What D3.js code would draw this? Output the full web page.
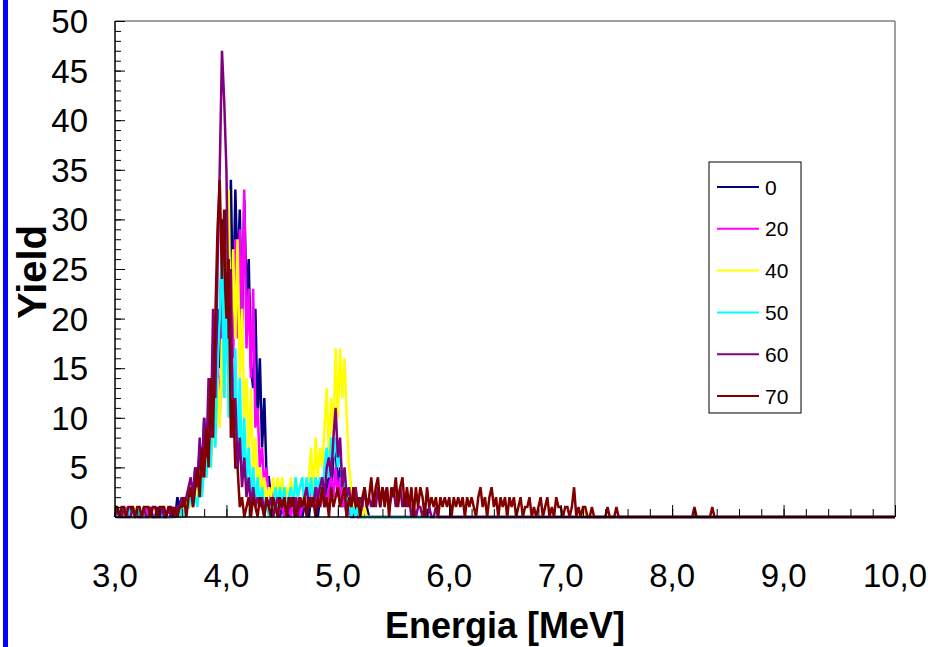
<!DOCTYPE html>
<html><head><meta charset="utf-8">
<script src="https://cdn.jsdelivr.net/npm/d3@7/dist/d3.min.js"></script>
<style>body{margin:0;background:#fff}svg{display:block}</style>
</head><body>
<script>
// ---- data ----
const seriesNames = ["0","20","40","50","60","70"];
const seriesColors = ["#000080","#FF00FF","#FFFF00","#00FFFF","#800080","#800000"];
const xTickValues = [3,4,5,6,7,8,9,10];
const xTickLabels = ["3,0","4,0","5,0","6,0","7,0","8,0","9,0","10,0"];
const yTickValues = [0,5,10,15,20,25,30,35,40,45,50];
const yTickLabels = ["0","5","10","15","20","25","30","35","40","45","50"];
const channelStart = 3.0;   // MeV, first channel
const channelWidth = 0.02;  // MeV per channel
// rows of 25 channels = 0.5 MeV each, from 3.00 to 10.00
const yield0 = [
1,0,0,1,0,0,0,1,0,0,1,0,0,0,0,1,0,0,0,1,0,0,0,0,0,
0,1,0,2,1,2,0,2,1,3,2,5,3,7,4,10,6,10,8,17,12,21,15,30,20,
31,22,34,20,33,24,31,19,32,22,26,15,13,21,10,16,7,12,4,4,2,3,1,2,0,
1,0,2,0,1,2,0,1,2,0,1,2,0,2,1,3,0,2,3,1,3,4,2,6,7,
3,5,1,2,0,1,0,0,1,0,0,0,0,1,0,0,0,0,0,0,0,0,0,0,0,
0,0,0,0,0,0,0,0,0,0,0,0,0,0,0,0,0,0,0,0,0,0,0,0,0,
0,0,0,0,0,0,0,0,0,0,0,0,0,0,0,0,0,0,0,0,0,0,0,0,0,
0,0,0,0,0,0,0,0,0,0,0,0,0,0,0,0,0,0,0,0,0,0,0,0,0,
0,0,0,0,0,0,0,0,0,0,0,0,0,0,0,0,0,0,0,0,0,0,0,0,0,
0,0,0,0,0,0,0,0,0,0,0,0,0,0,0,0,0,0,0,0,0,0,0,0,0,
0,0,0,0,0,0,0,0,0,0,0,0,0,0,0,0,0,0,0,0,0,0,0,0,0,
0,0,0,0,0,0,0,0,0,0,0,0,0,0,0,0,0,0,0,0,0,0,0,0,0,
0,0,0,0,0,0,0,0,0,0,0,0,0,0,0,0,0,0,0,0,0,0,0,0,0,
0,0,0,0,0,0,0,0,0,0,0,0,0,0,0,0,0,0,0,0,0,0,0,0,0,
0];
const yield20 = [
0,1,0,0,0,1,0,0,0,0,1,0,0,0,1,0,0,0,0,0,1,0,0,0,0,
0,0,0,1,0,1,0,1,1,2,1,3,2,4,3,6,4,9,6,12,8,15,10,19,12,
22,14,24,16,28,18,29,20,33,17,23,14,23,9,11,5,7,3,5,2,3,1,2,0,1,
1,0,2,1,0,2,1,2,0,1,2,1,3,1,2,0,3,1,2,3,1,3,4,2,5,
2,4,1,2,0,1,0,1,0,0,0,1,0,0,0,0,0,0,0,0,0,0,0,0,0,
0,0,0,0,0,0,0,0,0,0,0,0,0,0,0,0,0,0,0,0,0,0,0,0,0,
0,0,0,0,0,0,0,0,0,0,0,0,0,0,0,0,0,0,0,0,0,0,0,0,0,
0,0,0,0,0,0,0,0,0,0,0,0,0,0,0,0,0,0,0,0,0,0,0,0,0,
0,0,0,0,0,0,0,0,0,0,0,0,0,0,0,0,0,0,0,0,0,0,0,0,0,
0,0,0,0,0,0,0,0,0,0,0,0,0,0,0,0,0,0,0,0,0,0,0,0,0,
0,0,0,0,0,0,0,0,0,0,0,0,0,0,0,0,0,0,0,0,0,0,0,0,0,
0,0,0,0,0,0,0,0,0,0,0,0,0,0,0,0,0,0,0,0,0,0,0,0,0,
0,0,0,0,0,0,0,0,0,0,0,0,0,0,0,0,0,0,0,0,0,0,0,0,0,
0,0,0,0,0,0,0,0,0,0,0,0,0,0,0,0,0,0,0,0,0,0,0,0,0,
0];
const yield40 = [
1,0,0,0,1,0,0,0,0,1,0,0,0,1,0,0,0,0,0,0,0,1,0,0,0,
0,1,0,1,0,0,1,1,2,1,2,3,2,4,3,5,4,8,5,10,7,14,9,18,12,
24,33,15,27,18,28,14,21,10,14,6,13,4,8,3,5,2,4,1,3,2,4,1,4,2,
4,1,3,2,4,1,4,2,3,4,1,3,4,7,2,8,4,7,5,9,13,6,12,8,17,
10,17,12,16,10,5,3,1,0,1,0,0,1,0,0,0,0,0,0,0,0,0,0,0,0,
0,0,0,0,0,0,0,0,0,0,0,0,0,0,0,0,0,0,0,0,0,0,0,0,0,
0,0,0,0,0,0,0,0,0,0,0,0,0,0,0,0,0,0,0,0,0,0,0,0,0,
0,0,0,0,0,0,0,0,0,0,0,0,0,0,0,0,0,0,0,0,0,0,0,0,0,
0,0,0,0,0,0,0,0,0,0,0,1,0,0,0,0,0,0,0,0,0,0,0,0,0,
0,0,0,0,0,0,0,0,0,0,0,0,0,0,0,0,0,0,0,0,0,0,0,0,0,
0,0,0,0,0,0,0,0,0,0,0,0,0,0,0,0,0,0,0,0,0,0,0,0,0,
0,0,0,0,0,0,0,0,0,0,0,0,0,0,0,0,0,0,0,0,0,0,0,0,0,
0,0,0,0,0,0,0,0,0,0,0,0,0,0,0,0,0,0,0,0,0,0,0,0,0,
0,0,0,0,0,0,0,0,0,0,0,0,0,0,0,0,0,0,0,0,0,0,0,0,0,
0];
const yield50 = [
0,0,1,0,0,0,1,0,0,0,0,1,0,0,0,0,1,0,0,0,0,0,1,0,0,
0,0,1,0,0,1,0,1,1,2,1,2,1,4,2,5,4,8,5,12,7,15,20,28,12,
25,10,21,8,17,5,14,4,10,3,7,2,5,1,4,1,3,1,2,0,2,1,3,1,3,
1,3,0,2,3,1,4,2,3,4,1,4,2,4,1,4,3,4,2,5,7,4,8,6,8,
5,7,3,4,1,2,0,1,0,1,0,0,0,0,0,0,0,0,0,0,0,0,0,0,0,
0,0,0,0,0,0,0,0,0,0,0,0,0,0,0,0,0,0,0,0,0,0,0,0,0,
0,0,0,0,0,0,0,0,0,0,0,0,0,0,0,0,0,0,0,0,0,0,0,0,0,
0,0,0,0,0,0,0,0,0,0,0,0,0,0,0,0,0,0,0,0,0,0,0,0,0,
0,0,0,0,0,0,0,0,0,0,0,0,0,0,0,0,0,0,0,0,0,0,0,0,0,
0,0,0,0,0,0,0,0,0,0,0,0,0,0,0,0,0,0,0,0,0,0,0,0,0,
0,0,0,0,0,0,0,0,0,0,0,0,0,0,0,0,0,0,0,0,0,0,0,0,0,
0,0,0,0,0,0,0,0,0,0,0,0,0,0,0,0,0,0,0,0,0,0,0,0,0,
0,0,0,0,0,0,0,0,0,0,0,0,0,0,0,0,0,0,0,0,0,0,0,0,0,
0,0,0,0,0,0,0,0,0,0,0,0,0,0,0,0,0,0,0,0,0,0,0,0,0,
0];
const yield60 = [
0,1,0,0,1,0,0,0,1,0,0,0,0,1,0,0,1,0,0,0,0,1,0,0,1,
0,1,0,1,1,2,1,2,3,4,2,5,3,8,4,10,6,14,8,21,12,25,35,47,42,
35,18,25,8,12,5,8,3,6,2,4,1,3,1,2,1,2,0,2,1,2,0,1,2,1,
1,2,0,1,2,1,2,0,2,1,2,3,1,2,1,3,2,3,4,2,5,6,4,8,11,
6,8,3,5,2,3,1,2,3,1,2,1,3,1,2,1,2,1,3,1,3,2,3,1,2,
3,1,2,3,1,2,1,2,0,1,0,1,1,0,1,0,1,0,0,1,0,0,0,0,0,
0,0,0,0,0,0,0,0,0,0,0,0,0,0,0,0,0,0,0,0,0,0,0,0,0,
0,0,0,0,0,0,0,0,0,0,0,0,0,0,0,0,0,0,0,0,0,0,0,0,0,
0,0,0,0,0,0,0,0,0,0,0,0,0,0,0,0,0,0,0,0,0,0,0,0,0,
0,0,0,0,0,0,0,0,0,0,0,0,0,0,0,0,0,0,0,0,0,0,0,0,0,
0,0,0,0,0,0,0,0,0,0,0,0,0,0,0,0,0,0,0,0,0,0,0,0,0,
0,0,0,0,0,0,0,0,0,0,0,0,0,0,0,0,0,0,0,0,0,0,0,0,0,
0,0,0,0,0,0,0,0,0,0,0,0,0,0,0,0,0,0,0,0,0,0,0,0,0,
0,0,0,0,0,0,0,0,0,0,0,0,0,0,0,0,0,0,0,0,0,0,0,0,0,
0];
const yield70 = [
1,1,0,1,1,0,1,1,1,0,1,1,0,1,1,1,0,1,1,0,1,1,1,0,1,
1,0,1,0,1,1,2,0,2,3,1,3,5,2,7,4,9,5,14,8,20,29,34,24,31,
20,26,8,12,5,5,1,2,0,1,2,0,2,1,0,2,1,0,2,1,0,2,1,0,2,
1,2,0,2,1,2,0,1,2,1,2,0,2,1,2,0,2,1,3,1,2,0,3,1,2,
3,1,2,3,0,2,1,3,1,2,0,2,3,1,2,4,1,3,4,1,3,1,3,0,3,
2,4,1,3,4,1,3,1,3,0,3,1,3,2,0,3,1,2,1,2,0,2,1,2,1,
2,0,2,1,2,1,2,0,2,1,2,1,0,2,3,1,2,0,2,3,1,2,0,2,1,
2,0,2,1,2,0,1,2,0,1,1,2,0,1,0,1,2,0,1,2,0,1,0,2,1,
1,0,1,1,0,1,3,0,1,0,1,1,0,0,1,0,0,0,0,0,0,1,0,0,0,
1,0,0,0,0,0,0,0,0,0,0,0,0,0,0,0,0,0,0,0,0,0,0,0,0,
0,0,0,0,0,0,0,0,0,0,1,0,0,0,0,0,0,0,1,0,0,0,0,0,0,
0,0,0,0,0,0,0,0,0,0,0,0,0,0,0,0,0,0,0,0,0,0,0,0,0,
0,0,0,0,0,0,0,0,0,0,0,0,0,0,0,0,0,0,0,0,0,0,0,0,0,
0,0,0,0,0,0,0,0,0,0,0,0,0,0,0,0,0,0,0,0,0,0,0,0,0,
0];
const seriesValues = [yield0, yield20, yield40, yield50, yield60, yield70];

// ---- layout ----
const W = 928, H = 647;
const L = 115, R = 895, T = 21, B = 517;
const font = "Arial, 'Liberation Sans', sans-serif";

const svg = d3.select("body").append("svg").attr("width", W).attr("height", H);

// blue bar on left edge
svg.append("rect").attr("x", 3).attr("y", 0).attr("width", 5).attr("height", H).attr("fill", "#0000FF");

const x = d3.scaleLinear().domain([3, 10]).range([L, R]);
const y = d3.scaleLinear().domain([0, 50]).range([B, T]);

// frame: top and right gray
svg.append("line").attr("x1", L).attr("x2", R).attr("y1", T).attr("y2", T).attr("stroke", "#808080").attr("stroke-width", 1.5);
svg.append("line").attr("x1", R).attr("x2", R).attr("y1", T).attr("y2", B).attr("stroke", "#808080").attr("stroke-width", 1.5);

// series lines
const line = d3.line()
  .x((d, i) => x(channelStart + i * channelWidth))
  .y(d => y(d));
const g = svg.append("g");
seriesValues.forEach((vals, k) => {
  g.append("path").datum(vals)
    .attr("d", line)
    .attr("fill", "none")
    .attr("stroke", seriesColors[k])
    .attr("stroke-width", 2.5)
    .attr("stroke-linejoin", "miter");
});

// y axis: inward ticks, minor each unit, major each 5
const yAxisMinor = d3.axisRight(y).tickValues(y.ticks(50)).tickSize(6).tickFormat("");
const yAxisMajor = d3.axisRight(y).tickValues(yTickValues).tickSize(10).tickFormat("");
[yAxisMinor, yAxisMajor].forEach(ax => {
  const ga = svg.append("g").attr("transform", `translate(${L},0)`).call(ax);
  ga.select(".domain").remove();
  ga.selectAll(".tick line").attr("stroke", "#000");
});
// x axis: inward ticks, minor each 0.2, major each 1
const xAxisMinor = d3.axisTop(x).tickValues(x.ticks(35)).tickSize(8).tickFormat("");
const xAxisMajor = d3.axisTop(x).tickValues(xTickValues).tickSize(12).tickFormat("");
[xAxisMinor, xAxisMajor].forEach(ax => {
  const ga = svg.append("g").attr("transform", `translate(0,${B})`).call(ax);
  ga.select(".domain").remove();
  ga.selectAll(".tick line").attr("stroke", "#000");
});

// axis lines
svg.append("line").attr("x1", L).attr("x2", L).attr("y1", T).attr("y2", B).attr("stroke", "#000").attr("stroke-width", 1.5);
svg.append("line").attr("x1", L).attr("x2", R).attr("y1", B).attr("y2", B).attr("stroke", "#000").attr("stroke-width", 1.5);

// tick labels
svg.append("g").selectAll("text").data(yTickValues).join("text")
  .attr("x", 88).attr("y", d => y(d) + 12)
  .attr("text-anchor", "end")
  .attr("font-family", font).attr("font-size", 33)
  .attr("fill", "#000")
  .text((d, i) => yTickLabels[i]);
svg.append("g").selectAll("text").data(xTickValues).join("text")
  .attr("x", d => x(d)).attr("y", 587)
  .attr("text-anchor", "middle")
  .attr("font-family", font).attr("font-size", 33)
  .attr("fill", "#000")
  .text((d, i) => xTickLabels[i]);

// axis titles
svg.append("text")
  .attr("transform", `translate(46,272) rotate(-90)`)
  .attr("text-anchor", "middle")
  .attr("font-family", font).attr("font-weight", "bold").attr("font-size", 40)
  .text("Yield");
svg.append("text")
  .attr("x", 505).attr("y", 638)
  .attr("text-anchor", "middle")
  .attr("font-family", font).attr("font-weight", "bold").attr("font-size", 36)
  .text("Energia [MeV]");

// legend
const lg = svg.append("g");
lg.append("rect").attr("x", 709).attr("y", 162).attr("width", 92).attr("height", 251)
  .attr("fill", "#fff").attr("stroke", "#000").attr("stroke-width", 1);
seriesNames.forEach((n, k) => {
  const yy = 187 + k * 41.8;
  lg.append("line").attr("x1", 717).attr("x2", 759).attr("y1", yy).attr("y2", yy)
    .attr("stroke", seriesColors[k]).attr("stroke-width", 2);
  lg.append("text").attr("x", 765).attr("y", yy + 7.5)
    .attr("font-family", font).attr("font-size", 21).text(n);
});
</script>
</body></html>
